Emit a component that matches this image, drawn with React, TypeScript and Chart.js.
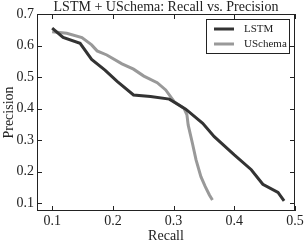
import React, { useEffect, useRef } from "react";
import { Chart, registerables } from "chart.js";

Chart.register(...registerables);

const lstmRecall = [0.1, 0.118, 0.146, 0.165, 0.187, 0.207, 0.234, 0.262, 0.293, 0.32, 0.348, 0.367, 0.4, 0.428, 0.447, 0.472, 0.482];
const lstmPrecision = [0.655, 0.626, 0.607, 0.556, 0.522, 0.486, 0.443, 0.438, 0.43, 0.398, 0.353, 0.311, 0.253, 0.206, 0.16, 0.134, 0.107];
const uschemaRecall = [0.1, 0.124, 0.149, 0.165, 0.174, 0.19, 0.215, 0.234, 0.251, 0.273, 0.287, 0.301, 0.317, 0.322, 0.324, 0.331, 0.337, 0.345, 0.352, 0.359, 0.364];
const uschemaPrecision = [0.644, 0.639, 0.625, 0.602, 0.583, 0.57, 0.542, 0.525, 0.503, 0.482, 0.459, 0.422, 0.401, 0.38, 0.348, 0.29, 0.237, 0.184, 0.153, 0.126, 0.11];
const xTicks = [0.1, 0.2, 0.3, 0.4, 0.5];
const yTicks = [0.1, 0.2, 0.3, 0.4, 0.5, 0.6, 0.7];
const seriesNames = ["LSTM", "USchema"];
const seriesColors = ["#333333", "#999999"];
const titleText = "LSTM + USchema: Recall vs. Precision";

const FONT = "'Liberation Serif', 'DejaVu Serif', serif";

const framePlugin = {
  id: "frame",
  afterDraw(chart: any) {
    const { ctx, chartArea: a, scales } = chart;
    const xs = scales.x;
    const ys = scales.y;
    ctx.save();
    ctx.strokeStyle = "#222";
    ctx.lineWidth = 1;
    ctx.strokeRect(a.left + 0.5, a.top + 0.5, a.right - a.left - 1, a.bottom - a.top - 1);
    ctx.beginPath();
    xTicks.forEach((t) => {
      const px = Math.round(xs.getPixelForValue(t)) + 0.5;
      ctx.moveTo(px, a.bottom);
      ctx.lineTo(px, a.bottom - 5);
      ctx.moveTo(px, a.top);
      ctx.lineTo(px, a.top + 5);
    });
    yTicks.forEach((t) => {
      const py = Math.round(ys.getPixelForValue(t)) + 0.5;
      ctx.moveTo(a.left, py);
      ctx.lineTo(a.left + 5, py);
      ctx.moveTo(a.right, py);
      ctx.lineTo(a.right - 5, py);
    });
    ctx.stroke();

    // title
    ctx.fillStyle = "#222";
    ctx.font = `14px ${FONT}`;
    ctx.textAlign = "center";
    ctx.textBaseline = "middle";
    ctx.fillText(titleText, (a.left + a.right) / 2, 7);

    // legend
    const lx = a.right - 89;
    const ly = a.top + 5;
    const lw = 83;
    const lh = 34;
    ctx.fillStyle = "#fff";
    ctx.fillRect(lx, ly, lw, lh);
    ctx.strokeStyle = "#222";
    ctx.lineWidth = 1;
    ctx.strokeRect(lx + 0.5, ly + 0.5, lw, lh);
    ctx.font = `11px ${FONT}`;
    ctx.textAlign = "left";
    seriesNames.forEach((n, i) => {
      const yy = ly + 10 + i * 15;
      ctx.strokeStyle = seriesColors[i];
      ctx.lineWidth = 3;
      ctx.beginPath();
      ctx.moveTo(lx + 8, yy);
      ctx.lineTo(lx + 28, yy);
      ctx.stroke();
      ctx.fillStyle = "#222";
      ctx.fillText(n, lx + 38, yy);
    });
    ctx.restore();
  },
};

export default function App() {
  const ref = useRef<HTMLCanvasElement | null>(null);
  useEffect(() => {
    document.body.style.margin = "0";
    const toPts = (xs: number[], ys: number[]) => xs.map((x, i) => ({ x, y: ys[i] }));
    const chart = new Chart(ref.current!, {
      type: "line",
      data: {
        datasets: [
          {
            label: seriesNames[0],
            data: toPts(lstmRecall, lstmPrecision),
            borderColor: seriesColors[0],
            borderWidth: 3,
            pointRadius: 0,
            tension: 0,
          },
          {
            label: seriesNames[1],
            data: toPts(uschemaRecall, uschemaPrecision),
            borderColor: seriesColors[1],
            borderWidth: 3,
            pointRadius: 0,
            tension: 0,
          },
        ],
      },
      options: {
        animation: false,
        responsive: false,
        events: [],
        layout: { padding: { top: 14, right: 11, left: 1, bottom: 0 } },
        plugins: { legend: { display: false }, title: { display: false }, tooltip: { enabled: false } },
        scales: {
          x: {
            type: "linear",
            min: 0.075,
            max: 0.5,
            afterFit: (s: any) => { s.height = 34; },
            afterBuildTicks: (s: any) => { s.ticks = xTicks.map((v) => ({ value: v })); },
            grid: { display: false, drawTicks: false },
            border: { display: false },
            ticks: { color: "#222", font: { family: FONT, size: 14 }, padding: 2, maxRotation: 0, callback: (v: any) => String(v) },
            title: { display: true, text: "Recall", color: "#222", font: { family: FONT, size: 14 }, padding: { top: 0, bottom: 0 } },
          },
          y: {
            type: "linear",
            min: 0.075,
            max: 0.7,
            afterFit: (s: any) => { s.width = 36; },
            afterBuildTicks: (s: any) => { s.ticks = yTicks.map((v) => ({ value: v })); },
            grid: { display: false, drawTicks: false },
            border: { display: false },
            ticks: { color: "#222", font: { family: FONT, size: 14 }, padding: 3, callback: (v: any) => String(v) },
            title: { display: true, text: "Precision", color: "#222", font: { family: FONT, size: 14 }, padding: { top: 0, bottom: 0 } },
          },
        },
      },
      plugins: [framePlugin],
    });
    return () => chart.destroy();
  }, []);
  return <canvas ref={ref} width={306} height={245} style={{ display: "block" }} />;
}
